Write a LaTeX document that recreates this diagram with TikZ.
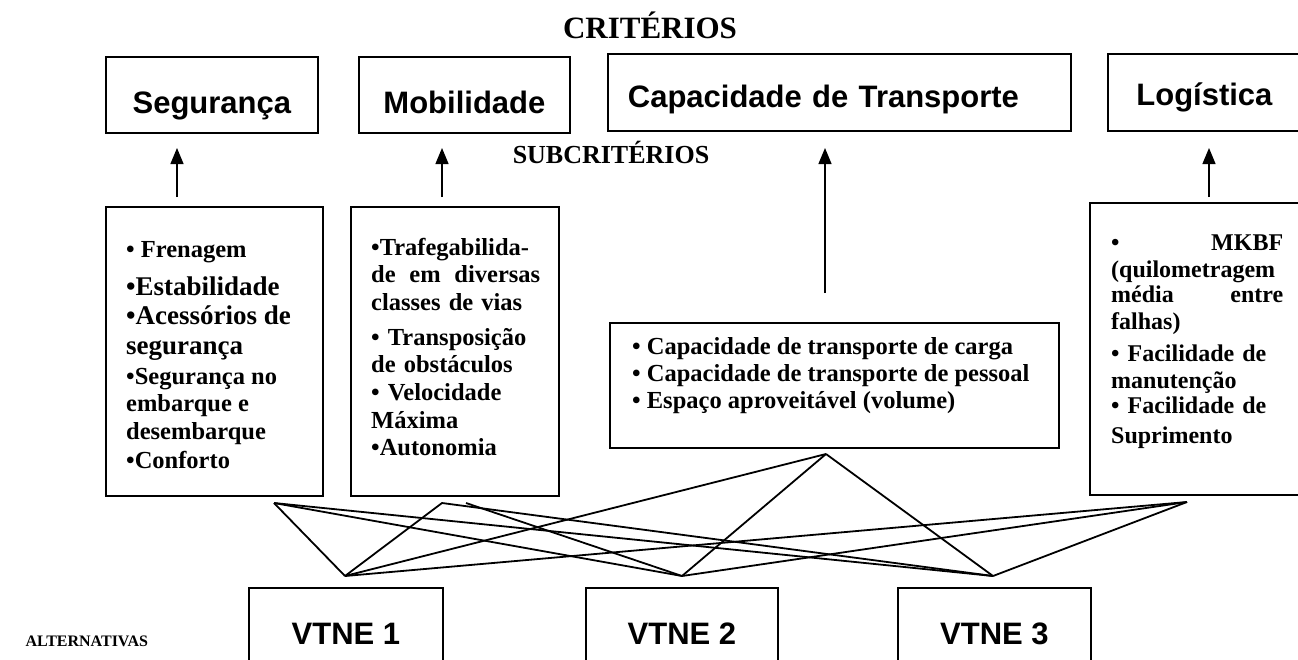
\documentclass[tikz,border=0pt]{standalone}
\usepackage{fontspec}
\setmainfont{Liberation Serif}
\setsansfont{Liberation Sans}
\usetikzlibrary{calc,arrows.meta}

\begin{document}
\begin{tikzpicture}[x=1pt,y=-1pt,
	critbox/.style={draw,line width=1.8pt,inner sep=0pt,anchor=north west,text height=38pt,text depth=0pt,font=\sffamily\bfseries\fontsize{31}{36}\selectfont},
	subbox/.style={draw,line width=1.8pt,inner sep=0pt,anchor=north west},
	subtext/.style={inner sep=0pt,anchor=base west,align=left,font=\bfseries\fontsize{24.5}{28.5}\selectfont},
	altbox/.style={draw,line width=1.8pt,inner sep=0pt,anchor=north west,minimum height=100pt,text height=14pt,text depth=0pt,font=\sffamily\bfseries\fontsize{31}{36}\selectfont},
	up/.style={-{Triangle[length=16pt,width=13pt]},line width=1.3pt},
	wire/.style={line width=1.8pt}]
			\useasboundingbox (0,0) rectangle (1298,659);
			\node[anchor=base,font=\bfseries\fontsize{31}{36}\selectfont] (crit) at (650,38) {CRITÉRIOS};
			\node[anchor=base,font=\bfseries\fontsize{26}{30}\selectfont] (subcrit) at (611,163) {SUBCRITÉRIOS};
			\node[anchor=base west,font=\bfseries\fontsize{16}{19}\selectfont] (alt) at (22,646) {ALTERNATIVAS};
			\node[critbox,minimum width=212pt,minimum height=76pt] (seg) at (105,56) {Segurança};
			\node[critbox,minimum width=211pt,minimum height=76pt] (mob) at (358,56) {Mobilidade};
			\node[critbox,text height=31pt,text width=423pt,inner xsep=20pt,minimum height=77pt,align=left] (cap) at (607,53) {Capacidade de Transporte};
			\node[critbox,text height=27pt,minimum width=193pt,minimum height=77pt] (log) at (1107,53) {Logística};
			\node[subbox,minimum width=217pt,minimum height=289pt] (segsub) at (105,206) {};
			\node[subbox,minimum width=208pt,minimum height=289pt] (mobsub) at (350,206) {};
			\node[subbox,minimum width=449pt,minimum height=125pt] (capsub) at (609,322) {};
			\node[subbox,minimum width=211pt,minimum height=292pt] (logsub) at (1089,202) {};
			\node[subtext] (segtext) at ($(segsub.south west)+(21,-28)$) {\textbullet{} Frenagem\\[9.5pt]
				{\fontsize{27}{30}\selectfont\textbullet Estabilidade}\\[0.5pt]
				{\fontsize{27}{30}\selectfont\textbullet Acessórios de}\\[1.5pt]
				{\fontsize{27}{30}\selectfont segurança}\\[1.5pt]
				\textbullet Segurança no\\[-1.5pt]
				embarque e\\[-0.5pt]
				desembarque\\[0.5pt]
				\textbullet Conforto};
			\node[subtext,text width=169pt,font=\bfseries\fontsize{24.5}{27.7}\selectfont] (mobtext) at ($(mobsub.north west)+(21,49)$) {\textbullet Trafegabilida-\\
				de\hfill em\hfill diversas\\
				classes de vias\\[7pt]
				\textbullet{} Transposição\\
				de obstáculos\\
				\textbullet{} Velocidade\\
				Máxima\\
				\textbullet Autonomia};
			\node[subtext,font=\bfseries\fontsize{24.5}{27}\selectfont] (captext) at ($(capsub.south west)+(23,-40)$) {\textbullet{} Capacidade de transporte de carga\\
				\textbullet{} Capacidade de transporte de pessoal\\
				\textbullet{} Espaço aproveitável (volume)};
			\node[subtext,text width=172pt,font=\bfseries\fontsize{24}{27}\selectfont] (logtext) at ($(logsub.north west)+(22,48)$) {\textbullet\hfill MKBF\\
				(quilometragem\\[-2pt]
				média\hfill entre\\
				falhas)\\[5pt]
				\textbullet{} Facilidade de\\
				manutenção\\[-2pt]
				\textbullet{} Facilidade de\\[3pt]
				Suprimento};
			\node[altbox,minimum width=194pt] (v1) at (248,587) {VTNE 1};
			\node[altbox,minimum width=192pt] (v2) at (585,587) {VTNE 2};
			\node[altbox,minimum width=193pt] (v3) at (897,587) {VTNE 3};
			\coordinate (segtip) at (177,148);
			\coordinate (mobtip) at (442,148);
			\coordinate (captip) at (825,148);
			\coordinate (logtip) at (1209,148);
			\draw[up] ($(segsub.north -| segtip)+(0,-9)$) -- (segtip);
			\draw[up] ($(mobsub.north -| mobtip)+(0,-9)$) -- (mobtip);
			\draw[up] ($(capsub.north -| captip)+(0,-29)$) -- (captip);
			\draw[up] ($(logsub.north -| logtip)+(0,-5)$) -- (logtip);
			\coordinate (s) at (274,503);
			\coordinate (m1) at (442,503);
			\coordinate (m2) at (466,503);
			\coordinate (c) at (826,454);
			\coordinate (l) at (1187,502);
			\coordinate (a1) at (345,576);
			\coordinate (a2) at (682,576);
			\coordinate (a3) at (993,576);
			\foreach \p in {s,c,l}
				\foreach \q in {a1,a2,a3}
					\draw[wire] (\p) -- (\q);
			\draw[wire] (a1) -- (m1) -- (a3);
			\draw[wire] (m2) -- (a2);
		\end{tikzpicture}
\end{document}
